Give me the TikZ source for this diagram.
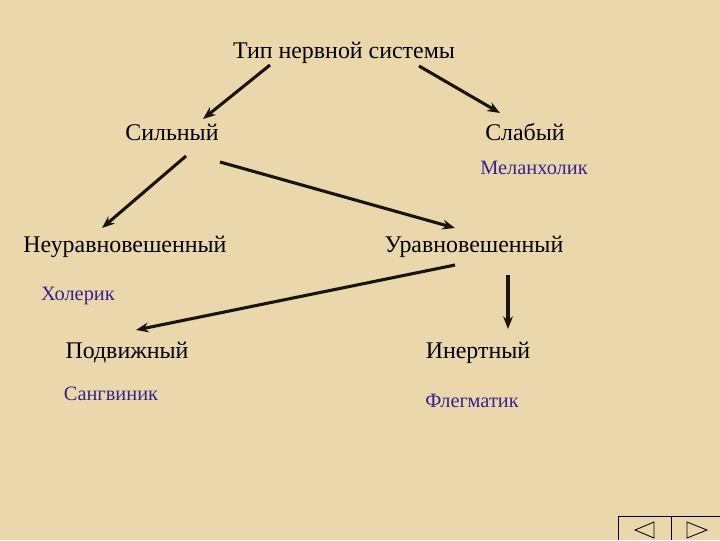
\documentclass[tikz,border=0pt]{standalone}
\usepackage{fontspec}
\setmainfont{Liberation Serif}
\usetikzlibrary{calc,positioning,arrows.meta}
\definecolor{paper}{RGB}{234,216,172}
\definecolor{temper}{RGB}{55,35,140}
\definecolor{ink}{RGB}{25,20,15}
\tikzset{kind/.style={inner sep=1pt,anchor=base,text=black,font=\fontsize{17}{19}\selectfont},
temp/.style={inner sep=1pt,anchor=base,text=temper,font=\fontsize{14.5}{16}\selectfont}}
\tikzstyle{arrow}     = [line width=2.2pt,draw=ink,-{Stealth[length=9pt,width=7pt]}]

\begin{document}
\begin{tikzpicture}[x=0.025cm,y=-0.025cm]
		\useasboundingbox (0,0) rectangle (720,540);
		\fill[paper] (0,0) rectangle (720,540);
		\node[kind] (type) at (344,58) {Тип нервной системы};
		\node[kind] (strong) at (172,140) {Сильный};
		\node[kind] (weak) at (525,140) {Слабый};
		\node[temp] (melan) at (534,174) {Меланхолик};
		\node[kind] (unbal) at (125,252) {Неуравновешенный};
		\node[kind] (bal) at (474,252) {Уравновешенный};
		\node[temp] (chol) at (78,300) {Холерик};
		\node[kind] (mobile) at (127,358) {Подвижный};
		\node[kind] (inert) at (478,358) {Инертный};
		\node[temp] (sang) at (111,400) {Сангвиник};
		\node[temp] (phleg) at (472,407) {Флегматик};

		\draw[arrow] ([shift={(-74,7)}]type.base) -- ([shift={(31,-21)}]strong.base);
		\draw[arrow] ([shift={(75,8)}]type.base) -- ([shift={(-25,-27)}]weak.base);
		\draw[arrow] ([shift={(14,16)}]strong.base) -- ([shift={(-23,-24)}]unbal.base);
		\draw[arrow] ([shift={(48,22)}]strong.base) -- ([shift={(-19,-24)}]bal.base);
		\draw[arrow] ([shift={(-19,13)}]bal.base) -- ([shift={(9,-28)}]mobile.base);
		\draw[arrow] ([shift={(34,23)}]bal.base) -- ([shift={(30,-29)}]inert.base);

		% navigation buttons
		\draw[line width=0.7pt] (618,540) -- (618,516) -- (720,516) (671,516) -- (671,540);
		\draw[line width=0.6pt] (654,522) -- (635,530) -- (654,538) -- cycle;
		\draw[line width=0.6pt] (687,522) -- (707,530) -- (687,538) -- cycle;
	\end{tikzpicture}
\end{document}
